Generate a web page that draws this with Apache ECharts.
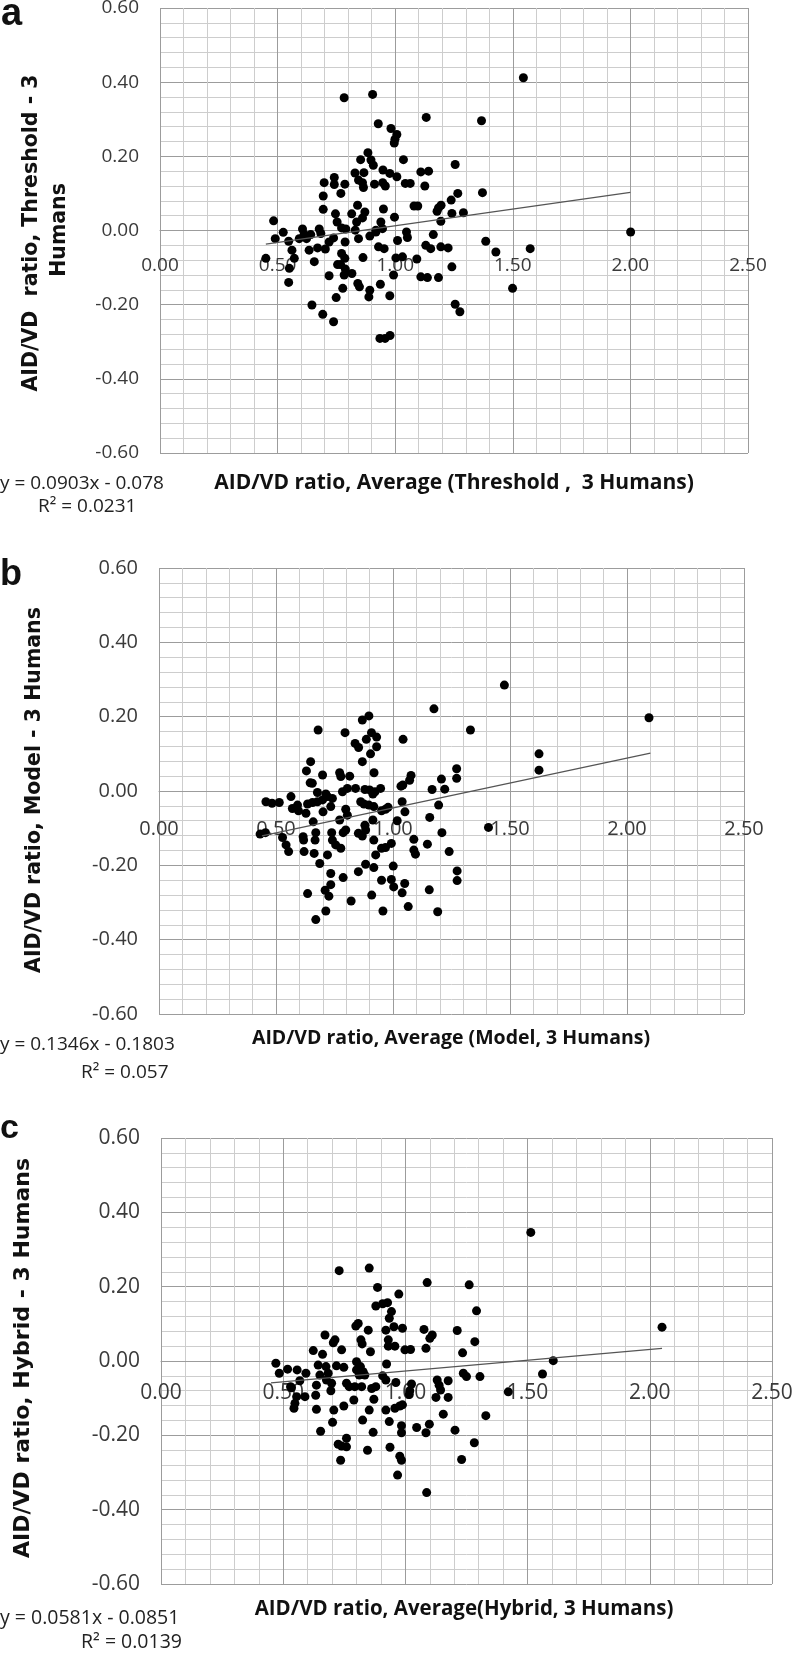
<!DOCTYPE html>
<html><head><meta charset="utf-8">
<script src="https://cdn.jsdelivr.net/npm/echarts@6/dist/echarts.min.js"></script>
<style>html,body{margin:0;padding:0;background:#fff}#c{width:793px;height:1654px}</style>
</head><body><div id="c"></div>
<script>
// ---- tick values / labels ----
const xTickValues = [0, 0.5, 1.0, 1.5, 2.0, 2.5];
const xTickLabels = ['0.00', '0.50', '1.00', '1.50', '2.00', '2.50'];
const yTickValues = [-0.6, -0.4, -0.2, 0, 0.2, 0.4, 0.6];
const yTickLabels = ['-0.60', '-0.40', '-0.20', '0.00', '0.20', '0.40', '0.60'];

// ---- panel titles / equations ----
const panelLetters = ['a', 'b', 'c'];
const yTitles = [['AID/VD  ratio, Threshold - 3', 'Humans'], ['AID/VD ratio, Model - 3 Humans'], ['AID/VD ratio, Hybrid - 3 Humans']];
const xTitles = ['AID/VD ratio, Average (Threshold ,  3 Humans)', 'AID/VD ratio, Average (Model, 3 Humans)', 'AID/VD ratio, Average(Hybrid, 3 Humans)'];
const equations = ['y = 0.0903x - 0.078', 'y = 0.1346x - 0.1803', 'y = 0.0581x - 0.0851'];
const r2Labels = ['R\u00B2 = 0.0231', 'R\u00B2 = 0.057', 'R\u00B2 = 0.0139'];

// ---- trend line endpoints ----
const thresholdTrend = [[0.45, -0.037], [2.0, 0.103]];
const modelTrend = [[0.44, -0.121], [2.1, 0.102]];
const hybridTrend = [[0.45, -0.059], [2.05, 0.034]];

// ---- data (a) Threshold ----
const thresholdPoints = [
[1.545,0.412],[0.783,0.358],[0.904,0.367],[1.132,0.305],[1.367,0.296],[0.928,0.288],[0.982,0.275],[1.007,0.259],[0.999,0.246],[0.996,0.236],
[0.884,0.210],[0.853,0.191],[0.897,0.190],[0.907,0.176],[1.035,0.191],[1.255,0.178],[0.948,0.163],[0.829,0.155],[0.867,0.156],[0.977,0.154],
[1.007,0.145],[1.109,0.158],[1.142,0.160],[0.698,0.129],[0.741,0.143],[0.741,0.124],[0.786,0.125],[0.844,0.136],[0.861,0.129],[0.865,0.116],
[0.912,0.125],[0.947,0.129],[0.958,0.120],[1.043,0.127],[1.064,0.127],[1.126,0.120],[0.694,0.093],[0.769,0.100],[1.371,0.102],[1.266,0.100],
[1.238,0.082],[0.694,0.057],[0.840,0.068],[0.871,0.050],[0.815,0.045],[0.746,0.045],[0.950,0.058],[0.997,0.036],[1.080,0.066],[1.096,0.066],
[1.184,0.061],[1.195,0.068],[1.178,0.052],[1.241,0.046],[1.290,0.048],[1.194,0.025],[0.483,0.026],[0.753,0.023],[0.772,0.007],[0.836,0.023],
[0.861,0.034],[0.939,0.023],[0.918,0.001],[0.830,0.001],[0.790,0.004],[0.524,-0.005],[0.606,0.004],[0.677,0.004],[0.684,-0.008],[0.613,-0.010],
[0.641,-0.011],[0.592,-0.022],[0.623,-0.022],[0.738,-0.020],[0.490,-0.022],[0.547,-0.029],[0.719,-0.031],[0.844,-0.022],[0.892,-0.015],[0.918,-0.004],
[0.946,0.005],[1.048,-0.004],[1.052,-0.019],[1.162,-0.011],[0.787,-0.031],[1.010,-0.027],[0.561,-0.053],[0.634,-0.053],[0.670,-0.047],[0.703,-0.050],
[0.571,-0.075],[0.656,-0.084],[0.929,-0.044],[0.953,-0.049],[1.130,-0.040],[1.151,-0.049],[1.194,-0.044],[1.225,-0.047],[1.385,-0.029],[1.428,-0.058],
[1.574,-0.049],[0.450,-0.075],[0.772,-0.062],[0.768,-0.092],[0.863,-0.073],[0.786,-0.075],[1.003,-0.074],[1.031,-0.071],[1.092,-0.077],[0.550,-0.102],
[0.755,-0.092],[0.788,-0.104],[0.816,-0.116],[0.783,-0.120],[0.719,-0.122],[0.993,-0.120],[1.109,-0.125],[1.137,-0.127],[1.184,-0.127],[1.241,-0.098],
[0.547,-0.140],[0.841,-0.143],[0.848,-0.152],[0.937,-0.145],[0.777,-0.156],[0.892,-0.161],[1.499,-0.156],[0.749,-0.181],[0.888,-0.179],[0.977,-0.176],
[0.646,-0.201],[1.255,-0.199],[1.275,-0.219],[0.692,-0.226],[0.738,-0.246],[0.935,-0.291],[0.957,-0.291],[0.978,-0.283],[2.001,-0.004]
];

// ---- data (b) Model ----
const modelPoints = [
[1.476,0.285],[1.175,0.221],[2.094,0.197],[0.897,0.202],[0.869,0.191],[1.331,0.164],[0.680,0.164],[0.795,0.157],[0.908,0.157],[0.930,0.145],
[1.043,0.139],[0.886,0.139],[0.838,0.128],[0.853,0.117],[0.930,0.119],[0.904,0.100],[1.624,0.100],[1.624,0.056],[0.869,0.079],[0.648,0.079],
[1.272,0.060],[1.272,0.034],[0.630,0.054],[0.919,0.049],[1.077,0.042],[1.071,0.029],[1.207,0.032],[1.034,0.013],
[0.699,0.043],[0.772,0.049],[0.777,0.039],[0.815,0.040],[0.646,0.022],[0.655,0.021],[1.042,0.016],[1.167,0.004],[1.221,0.005],[0.677,-0.004],
[0.713,-0.008],[0.784,-0.002],[0.805,0.007],[0.840,0.007],[0.880,0.004],[0.900,0.003],[0.923,-0.002],[0.947,0.007],[0.914,-0.008],[0.564,-0.015],
[0.457,-0.029],[0.483,-0.033],[0.514,-0.031],[0.592,-0.038],[0.570,-0.047],[0.596,-0.053],[0.635,-0.035],[0.656,-0.031],[0.677,-0.029],[0.699,-0.024],
[0.720,-0.015],[0.741,-0.020],[0.628,-0.060],[0.701,-0.056],[0.734,-0.042],[0.798,-0.049],[0.805,-0.065],[0.772,-0.078],[0.862,-0.029],[0.876,-0.035],
[0.897,-0.038],[0.918,-0.042],[0.951,-0.053],[0.979,-0.044],[0.968,-0.049],[1.039,-0.029],[1.051,-0.056],[1.157,-0.071],[1.195,-0.038],[0.659,-0.083],
[0.914,-0.078],[0.880,-0.092],[1.018,-0.080],[0.432,-0.116],[0.455,-0.112],[0.528,-0.125],[0.543,-0.145],[0.554,-0.163],[0.616,-0.123],[0.618,-0.132],
[0.620,-0.163],[0.670,-0.112],[0.667,-0.132],[0.663,-0.168],[0.738,-0.112],[0.741,-0.132],[0.755,-0.145],[0.777,-0.154],[0.787,-0.112],[0.798,-0.105],
[0.852,-0.114],[0.869,-0.121],[0.883,-0.105],[0.918,-0.132],[0.951,-0.154],[0.968,-0.152],[0.993,-0.141],[1.089,-0.130],[1.089,-0.159],[1.096,-0.170],
[1.147,-0.143],[1.209,-0.112],[1.240,-0.163],[1.408,-0.098],[0.720,-0.172],[0.687,-0.195],[0.883,-0.197],[0.852,-0.217],[0.926,-0.172],[0.918,-0.206],
[1.001,-0.202],[0.787,-0.233],[0.734,-0.222],[0.951,-0.240],[0.993,-0.238],[1.003,-0.258],[1.050,-0.249],[1.039,-0.274],[1.155,-0.266],[1.274,-0.215],
[1.274,-0.241],[0.734,-0.252],[0.710,-0.267],[0.726,-0.283],[0.635,-0.276],[0.821,-0.296],[0.909,-0.280],[1.065,-0.311],[0.957,-0.323],[0.713,-0.323],
[1.191,-0.325],[0.670,-0.346]
];

// ---- data (c) Hybrid ----
const hybridPoints = [
[0.729,0.243],[0.852,0.250],[1.089,0.211],[1.261,0.205],[0.886,0.198],[0.973,0.180],[1.291,0.135],[0.879,0.148],[0.907,0.154],[0.927,0.157],
[0.943,0.133],[0.934,0.115],[0.953,0.092],[0.807,0.101],[0.797,0.094],[0.848,0.083],[0.920,0.083],[0.930,0.057],[0.930,0.040],[0.957,0.040],
[0.988,0.088],[1.076,0.085],[1.110,0.070],[1.100,0.061],[1.084,0.034],[1.212,0.082],[1.284,0.052],[1.234,0.022],[0.998,0.030],[1.021,0.031],
[0.671,0.070],[0.705,0.049],[0.712,0.057],[0.623,0.028],[0.739,0.030],[0.818,0.057],[0.823,0.046],[0.857,0.025],[0.661,0.018],[0.470,-0.006],
[0.484,-0.033],[0.518,-0.022],[0.557,-0.024],[0.593,-0.033],[0.568,-0.053],[0.530,-0.069],[0.643,-0.011],[0.675,-0.015],[0.650,-0.038],[0.684,-0.033],
[0.677,-0.051],[0.698,-0.060],[0.718,-0.013],[0.748,-0.017],[0.800,-0.002],[0.816,-0.015],[0.827,-0.029],[0.834,-0.038],[0.811,-0.038],[0.800,-0.024],
[0.923,-0.008],[0.907,-0.040],[0.920,-0.051],[0.961,-0.058],[0.636,-0.065],[0.633,-0.092],[0.759,-0.060],[0.770,-0.069],[0.793,-0.069],[0.821,-0.069],
[0.789,-0.105],[0.862,-0.074],[0.879,-0.069],[0.871,-0.103],[1.025,-0.062],[1.018,-0.080],[1.016,-0.090],[1.130,-0.051],[1.138,-0.065],[1.175,-0.053],
[1.144,-0.078],[1.125,-0.098],[1.175,-0.098],[1.237,-0.033],[1.250,-0.042],[1.305,-0.042],[1.421,-0.083],[1.561,-0.035],[1.605,0.001],[0.534,-0.072],
[0.555,-0.096],[0.589,-0.096],[0.548,-0.114],[0.544,-0.127],[0.695,-0.080],[0.748,-0.121],[0.707,-0.132],[0.636,-0.130],[0.852,-0.132],[0.920,-0.132],
[0.957,-0.127],[0.977,-0.121],[0.988,-0.118],[1.155,-0.143],[1.329,-0.147],[0.702,-0.165],[0.825,-0.159],[0.934,-0.163],[0.984,-0.174],[0.984,-0.193],
[1.046,-0.179],[1.084,-0.193],[1.098,-0.170],[1.203,-0.186],[0.653,-0.189],[0.868,-0.192],[0.725,-0.224],[0.739,-0.229],[0.759,-0.208],[0.759,-0.231],
[0.845,-0.240],[0.937,-0.232],[0.977,-0.256],[0.984,-0.267],[0.735,-0.267],[1.230,-0.265],[1.282,-0.220],[0.968,-0.307],[1.087,-0.354],[1.513,0.346],
[2.050,0.091]
];

const pointSets = [thresholdPoints, modelPoints, hybridPoints];
const trendSets = [thresholdTrend, modelTrend, hybridTrend];

// ---- layout ----
const grids = [
  {left: 160, top: 8, width: 588, height: 445},
  {left: 159, top: 568, width: 585, height: 446},
  {left: 161, top: 1138, width: 611, height: 446}
];
const tickFont = [19, 20, 21];
const xLabelMargin = [26, 28, 22];
const MAJOR = '#9c9c9c', MINOR = '#cdcdcd';

function fmt(labels, values) {
  return function (v) {
    for (let i = 0; i < values.length; i++) if (Math.abs(values[i] - v) < 1e-6) return labels[i];
    return '';
  };
}

const xAxes = [], yAxes = [], series = [];
for (let i = 0; i < 3; i++) {
  xAxes.push({
    type: 'value', gridIndex: i, min: 0, max: 2.5, interval: 0.5,
    position: 'bottom',
    // x axis crosses the y axis at 0 (middle of the symmetric -0.6..0.6 range)
    offset: -grids[i].height / 2,
    axisLine: {show: true, onZero: false, lineStyle: {color: MAJOR, width: 1}},
    axisTick: {show: false},
    axisLabel: {margin: xLabelMargin[i], fontSize: tickFont[i], fontFamily: 'Open Sans', color: '#3a3a3a', formatter: fmt(xTickLabels, xTickValues)},
    splitLine: {show: true, lineStyle: {color: MAJOR, width: 1}},
    minorTick: {show: false, splitNumber: 5},
    minorSplitLine: {show: true, lineStyle: {color: MINOR, width: 1}}
  });
  yAxes.push({
    type: 'value', gridIndex: i, min: -0.6, max: 0.6, interval: 0.2,
    axisLine: {show: false, onZero: false},
    axisTick: {show: false},
    axisLabel: {margin: 21, fontSize: tickFont[i], fontFamily: 'Open Sans', color: '#3a3a3a', formatter: fmt(yTickLabels, yTickValues)},
    splitLine: {show: true, lineStyle: {color: MAJOR, width: 1}},
    minorTick: {show: false, splitNumber: 5},
    minorSplitLine: {show: true, lineStyle: {color: MINOR, width: 1}}
  });
  series.push({
    type: 'scatter', xAxisIndex: i, yAxisIndex: i, data: pointSets[i],
    symbol: 'circle', symbolSize: 9, itemStyle: {color: '#000', opacity: 1}, silent: true, z: 3
  });
  series.push({
    type: 'line', xAxisIndex: i, yAxisIndex: i, data: trendSets[i],
    symbol: 'none', lineStyle: {color: '#555', width: 1.3}, silent: true, z: 4
  });
}

function txt(x, y, text, font, opts) {
  opts = opts || {};
  return {
    type: 'text', x: x, y: y, rotation: opts.rot || 0, silent: true,
    style: {text: text, font: font, fill: opts.fill || '#111', align: opts.align || 'left', verticalAlign: 'middle'}
  };
}

const graphics = [
  txt(1, 15, panelLetters[0], 'bold 38px "Liberation Sans"'),
  txt(0, 575, panelLetters[1], 'bold 36px "Liberation Sans"'),
  txt(0, 1129, panelLetters[2], 'bold 34px "Liberation Sans"'),

  txt(32, 233, yTitles[0][0], 'bold 20.5px "DejaVu Sans"', {rot: Math.PI / 2, align: 'center'}),
  txt(60, 230, yTitles[0][1], 'bold 20.5px "DejaVu Sans"', {rot: Math.PI / 2, align: 'center'}),
  txt(35, 790, yTitles[1][0], 'bold 20.5px "DejaVu Sans"', {rot: Math.PI / 2, align: 'center'}),
  txt(23, 1358, yTitles[2][0], 'bold 22px "DejaVu Sans"', {rot: Math.PI / 2, align: 'center'}),

  txt(454, 483, xTitles[0], 'bold 21px "Open Sans"', {align: 'center'}),
  txt(451, 1038, xTitles[1], 'bold 19.5px "Open Sans"', {align: 'center'}),
  txt(464, 1609, xTitles[2], 'bold 20.5px "Open Sans"', {align: 'center'}),

  txt(0, 484, equations[0], '19px "Open Sans"', {fill: '#222'}),
  txt(38, 507, r2Labels[0], '19px "Open Sans"', {fill: '#222'}),
  txt(0, 1045, equations[1], '19px "Open Sans"', {fill: '#222'}),
  txt(81, 1073, r2Labels[1], '19px "Open Sans"', {fill: '#222'}),
  txt(0, 1618, equations[2], '19.5px "Open Sans"', {fill: '#222'}),
  txt(81, 1642, r2Labels[2], '19.5px "Open Sans"', {fill: '#222'})
];

const chart = echarts.init(document.getElementById('c'), null, {renderer: 'canvas'});
chart.setOption({
  animation: false,
  backgroundColor: '#fff',
  grid: grids.map(g => Object.assign({outerBoundsMode: 'none', containLabel: false}, g)),
  xAxis: xAxes,
  yAxis: yAxes,
  series: series,
  graphic: graphics
});
</script></body></html>
